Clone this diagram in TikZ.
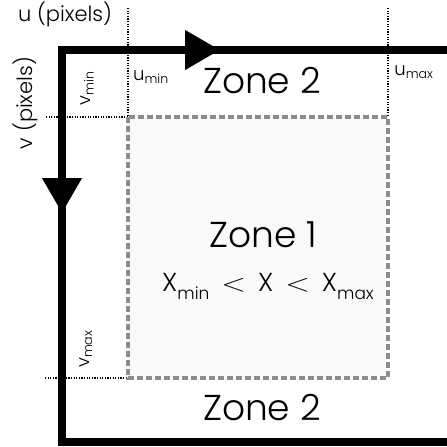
\documentclass[tikz,border=0pt]{standalone}
\usepackage{fontspec}
\setmainfont{Poppins}[UprightFont=* Light]
\usetikzlibrary{positioning, arrows.meta}
\tikzset{
	axisline/.style={line width=7.5pt, black},
	axisarrow/.style={axisline, -{Triangle[length=35pt, width=38pt]}},
	guideline/.style={line width=1.2pt, dash pattern=on 1.2pt off 1.4pt},
	zonebox/.style={draw=gray!90, line width=3.5pt, dash pattern=on 6pt off 3pt, fill=gray!4}
}
\newcommand{\lowsub}[1]{\raisebox{-8pt}{\fontsize{17}{17}\selectfont #1}}
\newcommand{\lessthan}{\hspace{12pt}\scalebox{1.3}[1]{$<$}\hspace{12pt}}

\begin{document}
\begin{tikzpicture}[
		x=1pt, y=-1pt,
		axislabel/.style={inner sep=0pt, font=\fontsize{21}{24}\selectfont},
		bound/.style={inner sep=0pt, font=\fontsize{18}{20}\selectfont},
		zonelabel/.style={inner sep=0pt, font=\fontsize{36}{40}\selectfont},
		rangelabel/.style={inner sep=0pt, font=\fontsize{26}{30}\selectfont}
		]
		
		\useasboundingbox (0,0) rectangle (447,447);
		
		\coordinate (O) at (62,50);
		\coordinate (TR) at (447,50);
		\coordinate (BL) at (62,442);
		\coordinate (BR) at (447,442);
		\coordinate (utip) at (220,50);
		\coordinate (vtip) at (62,213);
		
		\coordinate (zmin) at (128,117);
		\coordinate (zmax) at (388,378);
		\coordinate (zlow) at (128,378);
		\coordinate (zright) at (388,117);
		\coordinate (uminend) at (128,8);
		\coordinate (umaxend) at (388,8);
		\coordinate (vminend) at (45,117);
		\coordinate (vmaxend) at (45,378);
		
		\fill[gray!4] (zmin) rectangle (zmax);
		
		\draw[guideline] (uminend) -- (zmin) -- (vminend);
		\draw[guideline] (umaxend) -- (zright);
		\draw[guideline] (vmaxend) -- (zlow);
		
		\draw[zonebox] (zmin) rectangle (zmax);
		
		\draw[axisline] (TR) -- (O) -- (BL) -- (BR);
		\draw[axisarrow] (O) -- (utip);
		\draw[axisarrow] (O) -- (vtip);
		
		\node[axislabel] (ulabel) at (65,14) {u (pixels)};
		\node[axislabel, rotate=90] (vlabel) at (25,103) {v (pixels)};
		
		\node[bound] (umin) at (151,77) {u\textsubscript{min}};
		\node[bound] (umax) at (414,72) {u\textsubscript{max}};
		\node[bound, rotate=90] (vmin) at (87,88) {v\textsubscript{min}};
		\node[bound, rotate=90] (vmax) at (86,349) {v\textsubscript{max}};
		
		\node[zonelabel] (zonetop) at (262,81) {Zone 2};
		\node[zonelabel] (zoneone) at (263,235) {Zone 1};
		\node[rangelabel, anchor=base] (range) at (268,291) {X\lowsub{min}\lessthan X\lessthan X\lowsub{max}};
		\node[zonelabel] (zonebottom) at (262,408) {Zone 2};
		
	\end{tikzpicture}
\end{document}
